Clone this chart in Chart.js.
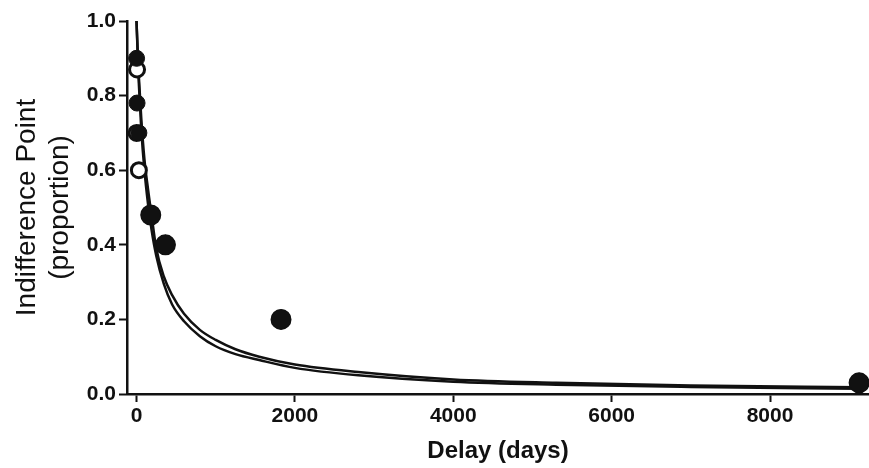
<!DOCTYPE html>
<html lang="en">

<head>
  <meta charset="UTF-8">
  <title>Indifference Point vs Delay</title>
  <script src="https://cdn.jsdelivr.net/npm/chart.js"></script>
  <style>
    body {
      margin: 0;
      background: #fff;
      overflow: hidden;
    }

    #wrap {
      width: 869px;
      height: 468px;
    }
  </style>
</head>

<body>
  <div id="wrap"><canvas id="discountChart"></canvas></div>

  <script>
    // observed indifference points (filled and open groups)
    const filledDelay = [1, 7, 30, 180, 365, 1825, 9125];
    const filledValue = [0.90, 0.78, 0.70, 0.48, 0.40, 0.20, 0.03];
    const openDelay = [1, 7, 30, 180, 365, 1825, 9125];
    const openValue = [0.70, 0.87, 0.60, 0.48, 0.40, 0.20, 0.03];

    // fitted curves
    const fitDelay = [0, 15, 30, 60, 100, 145, 190, 250, 345, 450, 600, 800, 1000, 1250, 1550, 2000, 2800, 4000, 5300, 7000, 9125];
    const fitUpper = [1.00, 0.92, 0.85, 0.74, 0.63, 0.55, 0.48, 0.39, 0.315, 0.265, 0.215, 0.172, 0.145, 0.12, 0.10, 0.079, 0.059, 0.039, 0.030, 0.023, 0.018];
    const fitLower = [1.00, 0.91, 0.83, 0.71, 0.60, 0.51, 0.44, 0.37, 0.295, 0.24, 0.195, 0.155, 0.128, 0.107, 0.091, 0.070, 0.050, 0.033, 0.025, 0.019, 0.014];

    const xTicks = [0, 2000, 4000, 6000, 8000];
    const yTicks = [0, 0.2, 0.4, 0.6, 0.8, 1.0];

    const toPoints = (xs, ys) => xs.map((x, i) => ({ x: x, y: ys[i] }));
    const ink = '#111';

    const ctx = document.getElementById('discountChart').getContext('2d');

    const discountChart = new Chart(ctx, {
      type: 'scatter',
      data: {
        datasets: [
          {
            label: 'Filled',
            data: toPoints(filledDelay, filledValue),
            backgroundColor: ink,
            borderColor: ink,
            borderWidth: 1,
            pointRadius: c => (c.raw && c.raw.y > 0.55 ? 8 : 9.5),
            clip: false
          },
          {
            label: 'Open',
            data: toPoints(openDelay, openValue),
            backgroundColor: '#fff',
            borderColor: ink,
            borderWidth: 3,
            pointRadius: c => (c.raw && c.raw.y > 0.55 ? 7.5 : 9),
            clip: false
          },
          {
            label: 'Fit 1',
            data: toPoints(fitDelay, fitUpper),
            showLine: true,
            borderColor: ink,
            borderWidth: 2.5,
            pointRadius: 0,
            cubicInterpolationMode: 'monotone'
          },
          {
            label: 'Fit 2',
            data: toPoints(fitDelay, fitLower),
            showLine: true,
            borderColor: ink,
            borderWidth: 2.5,
            pointRadius: 0,
            cubicInterpolationMode: 'monotone'
          }
        ]
      },
      options: {
        responsive: true,
        maintainAspectRatio: false,
        animation: false,
        events: [],
        layout: {
          autoPadding: false,
          padding: { top: 21, right: 0, bottom: 0, left: 0 }
        },
        plugins: {
          legend: { display: false },
          tooltip: { enabled: false }
        },
        scales: {
          x: {
            type: 'linear',
            min: -120,
            max: 9250,
            afterBuildTicks: scale => {
              scale.ticks = xTicks.map(v => ({ value: v }));
            },
            afterFit: scale => {
              scale.height = 74;
            },
            ticks: {
              color: ink,
              padding: 2,
              callback: v => String(v),
              font: { family: 'Liberation Sans', size: 21, weight: 'bold' }
            },
            grid: {
              drawOnChartArea: false,
              drawTicks: true,
              tickLength: 8,
              tickColor: ink,
              tickWidth: 2
            },
            border: { display: true, color: ink, width: 2.5 },
            title: {
              display: true,
              text: 'Delay (days)',
              color: ink,
              padding: { top: 0, bottom: 2 },
              font: { family: 'Liberation Sans', size: 24, weight: 'bold' }
            }
          },
          y: {
            min: 0,
            max: 1,
            afterBuildTicks: scale => {
              scale.ticks = yTicks.map(v => ({ value: v }));
            },
            afterFit: scale => {
              scale.width = 127;
            },
            ticks: {
              color: ink,
              padding: 3,
              callback: v => v.toFixed(1),
              font: { family: 'Liberation Sans', size: 21, weight: 'bold' }
            },
            grid: {
              drawOnChartArea: false,
              drawTicks: true,
              tickLength: 8,
              tickColor: ink,
              tickWidth: 2
            },
            border: { display: true, color: ink, width: 2.5 },
            title: {
              display: true,
              text: ['Indifference Point', '(proportion)'],
              color: ink,
              padding: { top: 10, bottom: 0 },
              font: { family: 'Liberation Sans', size: 28, weight: 'normal', lineHeight: 1.2 }
            }
          }
        }
      }
    });
  </script>
</body>

</html>
